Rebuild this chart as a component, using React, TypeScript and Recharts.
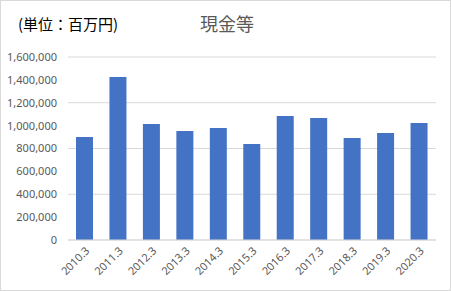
import React from 'react';
import { BarChart, Bar, XAxis, YAxis, CartesianGrid } from 'recharts';

const years = ['2010.3', '2011.3', '2012.3', '2013.3', '2014.3', '2015.3', '2016.3', '2017.3', '2018.3', '2019.3', '2020.3'];
const cash = [900000, 1425000, 1014000, 953000, 979000, 839000, 1084000, 1067000, 892000, 935000, 1023000];
const yTicks = [0, 200000, 400000, 600000, 800000, 1000000, 1200000, 1400000, 1600000];

const data = years.map((y, i) => ({ year: y, value: cash[i] }));

const fmt = (v: number) => v.toLocaleString('en-US');

const App: React.FC = () => {
  return (
    <div
      style={{
        position: 'fixed',
        left: 0,
        top: 0,
        width: 451,
        height: 291,
        background: '#fff',
        boxSizing: 'border-box',
        border: '1px solid #d9d9d9',
        fontFamily: '"Noto Sans CJK JP", "Noto Sans", sans-serif',
      }}
    >
      <div style={{ position: 'absolute', left: 17, top: 13, fontSize: 15, color: '#000', lineHeight: '20px' }}>
        (単位：百万円)
      </div>
      <div style={{ position: 'absolute', left: 199, top: 10, fontSize: 18, color: '#595959', lineHeight: '24px' }}>
        現金等
      </div>
      <div style={{ position: 'absolute', left: -1, top: -1 }}>
        <BarChart
          width={451}
          height={291}
          data={data}
          margin={{ top: 57, right: 15, bottom: 11, left: 0 }}
          barSize={17}
        >
          <CartesianGrid vertical={false} stroke="#d9d9d9" />
          <XAxis
            dataKey="year"
            axisLine={{ stroke: '#d9d9d9' }}
            tickLine={false}
            interval={0}
            height={40}
            tick={{ fontSize: 11, fill: '#595959', fontFamily: '"Noto Sans", sans-serif' }}
            angle={-45}
            textAnchor="end"
            tickSize={0}
            tickMargin={6}
          />
          <YAxis
            width={68}
            domain={[0, 1600000]}
            ticks={yTicks}
            tickFormatter={fmt}
            axisLine={false}
            tickLine={false}
            tickSize={0}
            tickMargin={11}
            tick={{ fontSize: 11, fill: '#595959', fontFamily: '"Noto Sans", sans-serif' }}
          />
          <Bar dataKey="value" fill="#4472C4" isAnimationActive={false} />
        </BarChart>
      </div>
    </div>
  );
};

export default App;
